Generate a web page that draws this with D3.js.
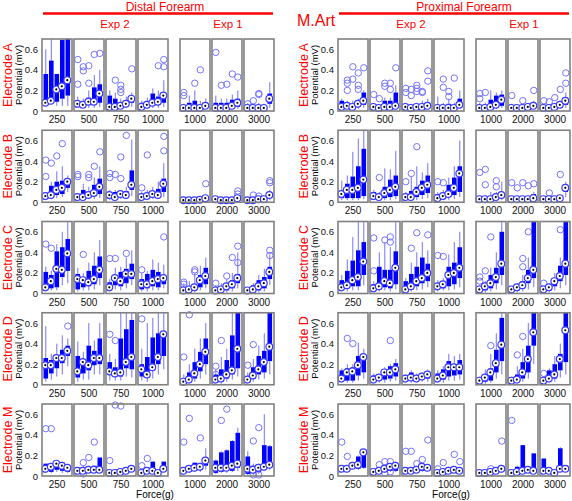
<!DOCTYPE html>
<html><head><meta charset="utf-8">
<script src="https://cdn.jsdelivr.net/npm/d3@7"></script>
<style>body{margin:0;background:#fff}svg{display:block}text{font-family:"Liberation Sans",Arial,sans-serif}</style>
</head><body>
<script>
// ---------- data ----------
const exp2Forces = ["250","500","750","1000"];
const exp1Forces = ["1000","2000","3000"];
const electrodes = ["Electrode A","Electrode B","Electrode C","Electrode D","Electrode M"];
const yTicks = [0, 0.2, 0.4, 0.6];
// each box: [lowWhisker, q1, median, q3, highWhisker, [outliers]] ; 7 panels x 5 boxes
const distalA = [
 [[.05,.07,.08,.36,.6],[.08,.1,.1,.49,.75],[.05,.09,.21,.36,.36],[.05,.12,.24,.69,.75],[.05,.15,.3,.75,.75]],
 [[.03,.04,.07,.09,.14,[.5,.26]],[.03,.04,.06,.09,.12,[.43,.39]],[.03,.06,.09,.13,.2,[.44,.27]],[.03,.06,.09,.23,.35,[.55]],[.04,.08,.17,.26,.4,[.56]]],
 [[.02,.03,.04,.15,.2],[.02,.03,.04,.12,.18,[.3]],[.02,.04,.05,.08,.12,[.25,.21,.18]],[.03,.05,.07,.1,.14],[.04,.08,.12,.13,.18,[.41]]],
 [[.02,.03,.04,.08,.1],[.02,.04,.06,.09,.13],[.03,.05,.08,.17,.22],[.03,.06,.09,.14,.2,[.44]],[.04,.08,.15,.17,.3,[.5,.43]]],
 [[.01,.02,.03,.05,.07,[.18,.15]],[.01,.02,.03,.08,.15],[.01,.02,.03,.1,.2,[.27]],[.01,.02,.03,.06,.1,[.4]],[.02,.03,.05,.08,.12]],
 [[.01,.02,.03,.08,.15,[.57]],[.01,.02,.03,.08,.12,[.25]],[.01,.02,.03,.08,.12,[.26]],[.02,.03,.05,.11,.16,[.36]],[.02,.04,.08,.12,.2,[.33]]],
 [[.01,.02,.03,.05,.08,[.07]],[.01,.02,.03,.04,.06,[.1]],[.01,.02,.03,.05,.08,[.17,.16]],[.01,.02,.03,.05,.07],[.03,.07,.12,.17,.28]]
];
const proximalA = [
 [[.02,.03,.04,.1,.12],[.02,.03,.05,.07,.1,[.3,.27,.2]],[.02,.03,.04,.07,.1,[.43,.31]],[.02,.04,.07,.1,.12,[.37,.25,.21]],[.03,.06,.1,.18,.2,[.42]]],
 [[.01,.02,.04,.05,.07,[.16]],[.01,.02,.03,.04,.06,[.12]],[.02,.03,.04,.1,.13,[.27,.24]],[.02,.03,.04,.1,.13,[.27,.21]],[.02,.04,.05,.18,.25,[.42]]],
 [[.01,.02,.04,.05,.08,[.22,.18]],[.01,.02,.03,.04,.07,[.21,.15]],[.02,.03,.04,.05,.08,[.25,.22,.19]],[.02,.03,.04,.06,.1,[.19,.18]],[.02,.04,.05,.08,.12,[.39,.29]]],
 [[.01,.02,.03,.05,.14],[.01,.02,.03,.05,.08,[.31,.23]],[.01,.02,.03,.07,.12,[.19,.14]],[.01,.02,.03,.05,.08,[.32]],[.02,.04,.06,.12,.2]],
 [[.01,.02,.03,.05,.08,[.17,.12]],[.01,.02,.03,.05,.08,[.18]],[.02,.03,.04,.11,.2],[.02,.04,.06,.15,.18],[.03,.05,.11,.16,.2]],
 [[.01,.02,.03,.05,.07,[.15]],[.01,.02,.03,.04,.06],[.01,.02,.03,.05,.07,[.1]],[.01,.02,.04,.06,.08],[.02,.03,.05,.08,.1,[.2]]],
 [[.01,.02,.03,.05,.07,[.1]],[.01,.02,.03,.04,.06,[.09]],[.01,.02,.04,.05,.08,[.13]],[.02,.03,.06,.07,.1,[.21]],[.03,.06,.1,.13,.18,[.37,.27]]]
];
const distalB = [
 [[.02,.04,.06,.07,.1,[.41,.25]],[.03,.05,.07,.16,.2,[.38]],[.04,.07,.12,.2,.3,[.45]],[.05,.08,.14,.21,.35,[.57]],[.1,.14,.2,.23,.26]],
 [[.02,.03,.05,.07,.09,[.27,.25]],[.02,.04,.05,.12,.18],[.03,.05,.07,.1,.15,[.27,.24]],[.03,.06,.09,.17,.24,[.35]],[.04,.08,.15,.23,.35,[.49]]],
 [[.02,.04,.07,.1,.12,[.28,.24]],[.02,.03,.05,.1,.12,[.27]],[.03,.05,.08,.1,.12,[.44,.23]],[.03,.05,.07,.11,.15,[.65]],[.06,.12,.17,.31,.61]],
 [[.02,.03,.05,.07,.1,[.14]],[.02,.04,.06,.08,.12,[.46]],[.03,.05,.08,.1,.15],[.03,.05,.07,.13,.2],[.05,.1,.18,.23,.38,[.64,.5]]],
 [[.01,.015,.02,.03,.04],[.01,.015,.02,.03,.04],[.01,.015,.02,.03,.04],[.01,.015,.025,.03,.04],[.01,.02,.04,.05,.07,[.18]]],
 [[.01,.02,.03,.04,.05],[.01,.015,.02,.03,.04],[.01,.015,.02,.03,.04],[.01,.015,.02,.03,.04],[.01,.02,.04,.05,.07,[.11,.08]]],
 [[.01,.015,.02,.03,.04],[.01,.015,.02,.03,.04,[.07]],[.01,.02,.03,.04,.05,[.06]],[.01,.015,.03,.04,.05],[.02,.04,.07,.1,.12,[.21,.19]]]
];
const proximalB = [
 [[.02,.04,.08,.1,.21],[.02,.04,.12,.18,.26],[.02,.04,.12,.25,.49],[.02,.04,.14,.35,.62],[.03,.06,.22,.52,.75]],
 [[.02,.03,.06,.1,.12],[.02,.03,.05,.08,.1,[.24]],[.02,.04,.09,.15,.33],[.02,.05,.12,.22,.32],[.03,.06,.15,.26,.5]],
 [[.02,.03,.05,.08,.1,[.2]],[.02,.03,.05,.11,.25,[.28]],[.02,.05,.1,.15,.35,[.54]],[.03,.07,.14,.21,.29],[.04,.09,.17,.26,.38]],
 [[.02,.03,.04,.08,.1,[.2]],[.02,.03,.06,.08,.12,[.19]],[.02,.05,.08,.17,.24],[.03,.07,.14,.24,.35],[.05,.1,.28,.35,.6]],
 [[.01,.02,.03,.04,.06,[.29]],[.01,.02,.03,.04,.06,[.32,.17]],[.01,.02,.03,.04,.1],[.01,.03,.05,.06,.1,[.21,.15]],[.02,.04,.07,.1,.2]],
 [[.01,.02,.03,.04,.05,[.19]],[.01,.02,.03,.04,.05,[.14]],[.01,.02,.03,.04,.05,[.19]],[.01,.02,.03,.04,.05,[.16]],[.01,.03,.04,.08,.1,[.18]]],
 [[.01,.02,.03,.04,.05],[.01,.02,.03,.04,.05,[.09]],[.01,.02,.03,.04,.05],[.01,.02,.04,.05,.06,[.27]],[.05,.1,.14,.17,.2]]
];
const distalC = [
 [[.02,.05,.06,.21,.26,[.48]],[.03,.05,.12,.18,.22,[.44]],[.03,.06,.24,.41,.48],[.08,.16,.23,.45,.6],[.1,.22,.39,.53,.7]],
 [[.02,.04,.14,.19,.25],[.03,.06,.13,.15,.2,[.38]],[.03,.07,.11,.22,.3],[.04,.09,.14,.27,.4],[.08,.15,.23,.36,.52]],
 [[.02,.04,.06,.11,.14,[.34]],[.04,.08,.15,.16,.25,[.34]],[.03,.07,.12,.21,.26],[.05,.1,.19,.24,.35,[.39]],[.08,.14,.19,.29,.42]],
 [[.02,.04,.09,.14,.2,[.23]],[.02,.05,.09,.19,.22],[.03,.07,.12,.23,.33],[.03,.06,.14,.21,.3],[.05,.09,.15,.18,.28,[.55]]],
 [[.005,.01,.03,.06,.1,[.11,.09]],[.01,.02,.04,.07,.12],[.01,.03,.06,.09,.2,[.23,.21]],[.03,.06,.13,.18,.27],[.05,.09,.17,.25,.35]],
 [[.005,.01,.03,.05,.08,[.1]],[.01,.02,.04,.07,.1],[.01,.03,.07,.09,.14,[.17]],[.02,.05,.09,.13,.2,[.35]],[.05,.1,.15,.19,.4,[.46,.3]]],
 [[.005,.01,.03,.04,.06],[.01,.02,.04,.08,.1],[.01,.03,.07,.13,.18],[.02,.05,.1,.16,.24],[.08,.14,.21,.26,.38,[.42,.37]]]
];
const proximalC = [
 [[.02,.04,.06,.13,.18],[.02,.05,.08,.22,.33],[.03,.07,.13,.32,.55],[.03,.07,.16,.42,.75],[.08,.18,.31,.5,.75]],
 [[.01,.02,.05,.09,.12,[.54,.22]],[.02,.04,.07,.26,.4],[.03,.06,.12,.23,.5,[.52]],[.02,.05,.1,.23,.45,[.55,.5]],[.04,.09,.25,.41,.75]],
 [[.01,.02,.04,.12,.15],[.02,.04,.07,.19,.3,[.44]],[.03,.07,.12,.26,.4,[.59]],[.04,.1,.15,.35,.5],[.06,.12,.2,.29,.42,[.57]]],
 [[.02,.04,.07,.1,.13,[.37]],[.03,.05,.09,.11,.15,[.36]],[.03,.07,.18,.26,.38],[.04,.09,.2,.3,.5],[.06,.15,.25,.45,.6]],
 [[.01,.02,.04,.06,.08,[.16,.12]],[.01,.03,.07,.08,.12,[.22]],[.02,.05,.1,.18,.25,[.55]],[.04,.1,.16,.25,.4],[.08,.18,.29,.6,.75]],
 [[.01,.02,.04,.05,.07],[.01,.03,.06,.08,.1],[.02,.05,.08,.12,.18,[.34,.26]],[.04,.1,.15,.23,.35,[.6]],[.06,.15,.23,.75,.75]],
 [[.01,.02,.04,.06,.08,[.1]],[.01,.03,.06,.08,.1],[.03,.07,.12,.13,.2],[.05,.12,.17,.27,.35,[.62]],[.08,.18,.29,.75,.75]]
];
const distalD = [
 [[.03,.06,.19,.26,.57],[.05,.11,.19,.24,.3],[.08,.16,.26,.27,.4],[.1,.21,.26,.34,.48],[.18,.28,.33,.38,.45,[.57]]],
 [[.03,.07,.13,.28,.42],[.05,.11,.22,.22,.32],[.05,.14,.19,.38,.6],[.1,.19,.26,.33,.43],[.1,.2,.26,.45,.6]],
 [[.04,.1,.13,.22,.3,[.49]],[.04,.08,.11,.17,.25,[.43]],[.04,.08,.12,.45,.75],[.08,.16,.22,.54,.75],[.07,.15,.27,.63,.75]],
 [[.04,.08,.15,.2,.35,[.64]],[.03,.07,.1,.27,.6],[.06,.14,.17,.46,.65],[.1,.2,.27,.5,.75],[.15,.28,.49,.52,.75]],
 [[.005,.01,.03,.05,.1,[.27]],[.01,.02,.05,.12,.2,[.68]],[.03,.06,.11,.22,.35],[.06,.13,.2,.32,.45],[.1,.2,.32,.45,.6]],
 [[.01,.02,.05,.1,.15,[.18,.1]],[.01,.03,.06,.15,.27,[.43]],[.03,.06,.1,.24,.35],[.05,.1,.14,.48,.75],[.08,.16,.35,.75,.75]],
 [[.01,.02,.05,.08,.12,[.19]],[.03,.06,.09,.17,.25,[.39]],[.05,.1,.15,.28,.38],[.06,.12,.22,.33,.5],[.1,.23,.37,.75,.75]]
];
const proximalD = [
 [[.02,.04,.06,.14,.16],[.02,.04,.12,.16,.2,[.45]],[.02,.04,.13,.17,.2,[.4]],[.04,.09,.19,.28,.41],[.06,.12,.27,.29,.35]],
 [[.01,.03,.05,.09,.11],[.02,.04,.07,.08,.1],[.02,.05,.12,.15,.17],[.03,.06,.12,.18,.2,[.43]],[.04,.08,.15,.21,.25]],
 [[.02,.04,.06,.09,.1],[.02,.04,.07,.12,.14],[.02,.05,.06,.09,.11],[.03,.06,.08,.1,.12],[.03,.06,.1,.13,.15]],
 [[.02,.04,.06,.11,.14],[.02,.05,.09,.15,.18],[.04,.08,.17,.23,.3],[.04,.09,.17,.2,.28],[.05,.1,.17,.24,.3]],
 [[.01,.02,.04,.06,.08],[.01,.03,.07,.1,.15],[.02,.04,.12,.16,.3,[.38]],[.06,.12,.21,.34,.5],[.1,.23,.39,.65,.75]],
 [[.01,.02,.04,.06,.08],[.01,.03,.05,.1,.18,[.29]],[.03,.06,.12,.22,.35,[.47]],[.06,.12,.25,.38,.6],[.2,.38,.51,.75,.75]],
 [[.01,.02,.04,.07,.08,[.11]],[.02,.04,.06,.14,.16],[.03,.06,.1,.2,.28],[.07,.14,.25,.3,.4],[.1,.22,.53,.75,.75]]
];
const distalM = [
 [[.03,.05,.07,.12,.12,[.46]],[.03,.04,.09,.11,.12,[.46]],[.04,.06,.12,.13,.14],[.03,.05,.1,.13,.14],[.03,.04,.08,.1,.1]],
 [[.02,.03,.05,.06,.06],[.02,.02,.05,.08,.1,[.13,.02]],[.03,.04,.06,.08,.1,[.18]],[.03,.04,.06,.1,.1,[.33]],[.04,.05,.06,.18,.18]],
 [[.01,.02,.03,.04,.05,[.15]],[.01,.02,.03,.04,.05,[.69]],[.02,.03,.04,.05,.06,[.68]],[.03,.04,.05,.06,.07],[.04,.05,.07,.08,.09]],
 [[.01,.02,.03,.06,.07,[.1]],[.02,.03,.05,.06,.07,[.17]],[.02,.03,.05,.14,.14],[.01,.02,.03,.05,.06],[.04,.05,.07,.14,.14]],
 [[.02,.03,.05,.07,.08,[.33]],[.03,.04,.07,.08,.09,[.56]],[.04,.05,.08,.13,.13],[.04,.06,.09,.12,.13,[.37]],[.06,.1,.15,.17,.27]],
 [[.02,.03,.08,.15,.16],[.03,.04,.08,.23,.24,[.54]],[.03,.05,.08,.25,.26,[.65]],[.04,.05,.1,.34,.35],[.05,.08,.12,.42,.47]],
 [[.01,.02,.07,.19,.24],[.01,.03,.06,.1,.12,[.34,.01]],[.02,.04,.08,.1,.12,[.47,.01]],[.05,.08,.09,.3,.6],[.06,.08,.11,.29,.3]]
];
const proximalM = [
 [[.05,.06,.07,.08,.08,[.33]],[.05,.06,.07,.09,.09,[.19]],[.07,.08,.1,.11,.12],[.06,.07,.11,.19,.2],[.07,.08,.23,.24,.26]],
 [[.01,.02,.04,.06,.07],[.02,.03,.05,.07,.08,[.11]],[.03,.04,.07,.09,.1,[.14,.03]],[.04,.05,.09,.1,.12,[.14,.04]],[.04,.05,.1,.13,.14]],
 [[.02,.03,.05,.06,.07,[.24]],[.02,.03,.05,.06,.07,[.24]],[.03,.04,.06,.07,.08,[.12]],[.04,.05,.09,.1,.12,[.16]],[.05,.06,.08,.09,.1,[.35]]],
 [[.01,.02,.03,.05,.06,[.07]],[.02,.03,.04,.06,.07,[.13]],[.03,.04,.05,.08,.09],[.03,.04,.06,.08,.09,[.21]],[.03,.04,.05,.07,.08,[.14]]],
 [[.01,.02,.03,.04,.05],[.01,.02,.03,.04,.05],[.01,.02,.04,.05,.06,[.07]],[.02,.03,.05,.06,.07],[.03,.04,.07,.08,.1,[.34]]],
 [[.01,.02,.03,.04,.05,[.54]],[.02,.03,.04,.09,.1],[.02,.03,.05,.3,.3],[.03,.04,.06,.07,.08],[.03,.04,.05,.22,.22]],
 [[.03,.04,.05,.17,.17],[.02,.03,.05,.06,.07],[.01,.02,.03,.04,.05],[.04,.05,.07,.27,.28],[.04,.05,.07,.1,.1]]
];
const distalRows = [distalA, distalB, distalC, distalD, distalM];
const proximalRows = [proximalA, proximalB, proximalC, proximalD, proximalM];

// ---------- drawing ----------
const W = 572, H = 501;
const RED = "#ff0000", BLUE = "#0000ff", LIGHT = "#7373ff", FRAME = "#808080";
const svg = d3.select("body").append("svg").attr("width", W).attr("height", H);

const rowTop = d3.scaleLinear().domain([0, 4]).range([39, 404]);
const panelH = 72;
const halves = [
  {off: 0, rows: distalRows, title: "Distal Forearm", titleX: 165},
  {off: 296, rows: proximalRows, title: "Proximal Forearm", titleX: 168}
];
const xExp2 = d3.scaleBand().domain(d3.range(4)).range([42, 168]).paddingInner(2/32);
const xExp1 = d3.scaleBand().domain(d3.range(3)).range([180, 274]).paddingInner(2/32);
const boxX = d3.scalePoint().domain(d3.range(5)).range([3.8, 25.8]);
const boxW = 4.6;

function panelX(p) { return p < 4 ? xExp2(p) : xExp1(p - 4); }

halves.forEach(h => {
  const g = svg.append("g").attr("transform", `translate(${h.off},0)`);
  h.rows.forEach((rowData, r) => {
    const top = rowTop(r);
    const y = d3.scaleLinear().domain([0, 0.7]).range([top + panelH, top]).clamp(true);
    const pw = xExp2.bandwidth();
    rowData.forEach((panel, p) => {
      const px = panelX(p);
      const pg = g.append("g").attr("transform", `translate(${px},0)`);
      panel.forEach((b, i) => {
        const cx = boxX(i);
        const [lo, q1, med, q3, hi, outs] = b;
        pg.append("line").attr("x1", cx).attr("x2", cx).attr("y1", y(hi)).attr("y2", y(q3))
          .attr("stroke", LIGHT).attr("stroke-width", 1);
        pg.append("line").attr("x1", cx).attr("x2", cx).attr("y1", y(q1)).attr("y2", y(lo))
          .attr("stroke", LIGHT).attr("stroke-width", 1);
        pg.append("rect").attr("x", cx - boxW/2).attr("width", boxW)
          .attr("y", y(q3)).attr("height", Math.max(0.8, y(q1) - y(q3))).attr("fill", BLUE);
        (outs || []).forEach(o => {
          pg.append("circle").attr("cx", cx).attr("cy", y(o)).attr("r", 3.2)
            .attr("fill", "none").attr("stroke", LIGHT).attr("stroke-width", 1);
        });
      });
      panel.forEach((b, i) => {
        const cx = boxX(i) - 0.5;
        pg.append("circle").attr("cx", cx).attr("cy", y(b[2])).attr("r", 3.4)
          .attr("fill", "#fff").attr("stroke", "#3a3aff").attr("stroke-width", 1.2);
        pg.append("circle").attr("cx", cx).attr("cy", y(b[2])).attr("r", 1.1).attr("fill", "#000");
      });
      pg.append("rect").attr("x", 0).attr("y", top).attr("width", pw).attr("height", panelH)
        .attr("fill", "none").attr("stroke", FRAME).attr("stroke-width", 1.6);
    });
    // y axis on first panel
    const ya = g.append("g").attr("transform", `translate(${xExp2(0) - 1},0)`)
      .call(d3.axisLeft(y).tickValues(yTicks).tickSize(0).tickPadding(3)
        .tickFormat(d => d === 0 ? "0" : d3.format(".1f")(d)));
    ya.select(".domain").remove();
    ya.selectAll("text").attr("font-size", 9.5).attr("fill", "#111")
      .style("font-family", '"Liberation Sans",Arial,sans-serif');
    // x labels
    [[xExp2, exp2Forces], [xExp1, exp1Forces]].forEach(([sc, labs]) => {
      const xa = g.append("g").attr("transform", `translate(0,${top + panelH + 2})`)
        .call(d3.axisBottom(sc).tickSize(0).tickPadding(3).tickFormat(i => labs[i]));
      xa.select(".domain").remove();
      xa.selectAll("text").attr("font-size", 10).attr("fill", "#111")
        .style("font-family", '"Liberation Sans",Arial,sans-serif');
    });
    // electrode + potential labels
    const cy = top + panelH / 2;
    g.append("text").attr("transform", `translate(11.5,${cy}) rotate(-90)`).attr("text-anchor", "middle")
      .attr("font-size", 12.5).attr("fill", RED).text(electrodes[r]);
    g.append("text").attr("transform", `translate(21.5,${cy}) rotate(-90)`).attr("text-anchor", "middle")
      .attr("font-size", 9.5).attr("fill", "#000").text("Potential (mV)");
  });
  // titles
  const lineX0 = xExp2.range()[0], lineX1 = xExp1.range()[1];
  g.append("line").attr("x1", lineX0 + 1).attr("x2", lineX1 - 1).attr("y1", 13.5).attr("y2", 13.5)
    .attr("stroke", RED).attr("stroke-width", 2.5);
  g.append("text").attr("x", h.titleX).attr("y", 10.5).attr("text-anchor", "middle")
    .attr("font-size", 12).attr("fill", RED).text(h.title);
  g.append("text").attr("x", 115).attr("y", 28).attr("text-anchor", "middle")
    .attr("font-size", 11.5).attr("fill", RED).text("Exp 2");
  g.append("text").attr("x", 228).attr("y", 28).attr("text-anchor", "middle")
    .attr("font-size", 11.5).attr("fill", RED).text("Exp 1");
  g.append("text").attr("x", 155).attr("y", 498).attr("text-anchor", "middle")
    .attr("font-size", 10).attr("fill", "#000").text("Force(g)");
});
svg.append("text").attr("x", 297).attr("y", 26).attr("font-size", 16).attr("fill", RED).text("M.Art");
</script>
</body></html>
